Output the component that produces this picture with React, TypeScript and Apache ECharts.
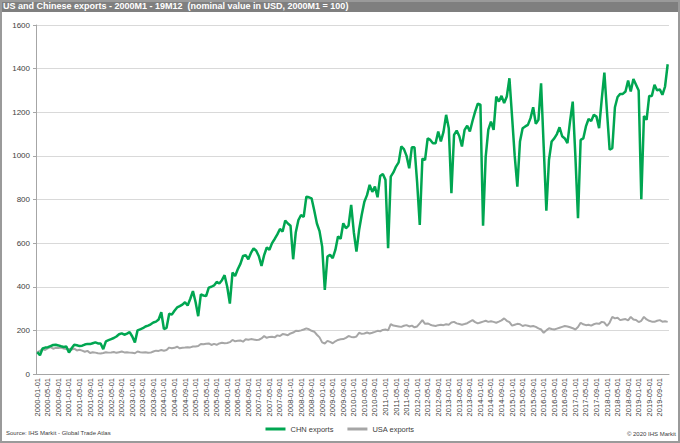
import React, { useEffect, useRef } from "react";
import * as echarts from "echarts";

const years = [2000, 2001, 2002, 2003, 2004, 2005, 2006, 2007, 2008, 2009, 2010, 2011, 2012, 2013, 2014, 2015, 2016, 2017, 2018, 2019];
const months = ["01", "02", "03", "04", "05", "06", "07", "08", "09", "10", "11", "12"];
const categories: string[] = [];
years.forEach((y) => months.forEach((m) => categories.push(`${y}-${m}-01`)));

const yTicks = { min: 0, max: 1600, interval: 200 };

const chnExports = [
  100, 86, 117, 121, 123, 128, 133, 134, 131, 127, 124, 126,
  98, 118, 134, 132, 128, 130, 135, 138, 137, 141, 145, 140,
  140, 114, 150, 155, 160, 165, 172, 182, 186, 180, 185, 192,
  172, 145, 200, 205, 210, 218, 222, 228, 236, 240, 250, 283,
  206, 212, 276, 272, 290, 305, 311, 318, 329, 314, 345, 380,
  330, 265, 365, 360, 357, 396, 400, 406, 422, 415, 430, 453,
  400, 323, 465, 449, 480, 505, 541, 545, 526, 555, 576, 565,
  540, 495, 545, 580, 570, 600, 619, 640, 665, 653, 703, 690,
  680, 526, 650, 706, 729, 720, 813, 810, 805, 750, 690, 655,
  584, 385, 538, 546, 531, 569, 630, 620, 691, 668, 680, 775,
  650, 561, 660, 730, 790, 820, 867, 835, 859, 810, 908, 917,
  890, 577, 905, 924, 951, 970, 1043, 1031, 1000, 943, 1039, 1039,
  880, 683, 988, 981, 1080, 1073, 1058, 1058, 1112, 1066, 1110, 1188,
  1127, 829, 1096, 1116, 1090, 1043, 1119, 1138, 1112, 1160, 1203, 1239,
  1235, 680, 996, 1120, 1157, 1119, 1272, 1249, 1275, 1242, 1272, 1356,
  1180, 1000, 859, 1066, 1127, 1135, 1142, 1173, 1223, 1147, 1165, 1333,
  1040, 749, 982, 1066, 1080, 1100, 1131, 1090, 1080, 1058, 1160, 1249,
  1000, 714, 1073, 1080, 1135, 1169, 1160, 1188, 1180, 1127, 1260, 1382,
  1200, 1028, 1035, 1223, 1270, 1284, 1284, 1295, 1345, 1295, 1352, 1326,
  1300, 801, 1183, 1165, 1275, 1275, 1326, 1300, 1305, 1280, 1318, 1420,
];

const usaExports = [
  100, 106, 114, 110, 118, 123, 116, 120, 119, 121, 117, 114,
  115, 112, 116, 108, 111, 107, 102, 106, 96, 100, 98, 95,
  94, 96, 100, 98, 99, 101, 97, 100, 103, 99, 100, 98,
  97, 95, 103, 100, 99, 100, 97, 98, 103, 107, 106, 110,
  107, 110, 121, 118, 120, 125, 118, 120, 121, 123, 122, 126,
  126, 128, 138, 136, 139, 140, 133, 138, 134, 140, 143, 141,
  142, 146, 156, 150, 152, 154, 148, 159, 157, 160, 158, 156,
  157, 163, 174, 166, 170, 171, 168, 177, 174, 183, 181, 178,
  186, 190, 198, 197, 200, 204, 209, 205, 198, 194, 180, 168,
  145, 140, 152, 147, 141, 150, 156, 159, 160, 166, 174, 170,
  168, 172, 189, 184, 186, 190, 186, 189, 193, 198, 196, 202,
  204, 200, 229, 222, 220, 218, 216, 221, 224, 218, 222, 214,
  218, 232, 247, 230, 232, 226, 222, 220, 224, 226, 224, 228,
  226, 236, 239, 232, 229, 226, 229, 233, 240, 247, 238, 232,
  236, 240, 244, 239, 242, 239, 235, 240, 246, 255, 244, 238,
  222, 226, 230, 228, 220, 224, 221, 218, 220, 216, 209, 204,
  189, 200, 210, 206, 204, 208, 212, 216, 220, 218, 214, 210,
  204, 215, 235, 228, 224, 226, 222, 228, 232, 230, 239, 236,
  220, 236, 262, 255, 258, 247, 250, 252, 246, 262, 250, 248,
  238, 244, 262, 250, 244, 240, 239, 244, 247, 240, 242, 239,
];

const titleText = "US and Chinese exports - 2000M1 - 19M12  (nominal value in USD, 2000M1 = 100)";
const sourceText = "Source: IHS Markit - Global Trade Atlas";
const copyrightText = "© 2020 IHS Markit";
const seriesNames = ["CHN exports", "USA exports"];

const FONT = "'Liberation Sans', Arial, sans-serif";

export default function App() {
  const ref = useRef<HTMLDivElement>(null);
  useEffect(() => {
    if (!ref.current) return;
    const chart = echarts.init(ref.current, undefined, { renderer: "svg" });
    chart.setOption({
      animation: false,
      backgroundColor: "#ffffff",
      textStyle: { fontFamily: FONT },
      grid: { left: 36, right: 11, top: 25, bottom: 69, containLabel: false },
      legend: {
        data: seriesNames,
        top: 420,
        left: "center",
        icon: "rect",
        itemWidth: 20,
        itemHeight: 3,
        itemGap: 14,
        textStyle: { fontSize: 7.5, color: "#404040", fontFamily: FONT },
      },
      xAxis: {
        type: "category",
        data: categories,
        boundaryGap: true,
        axisLine: { lineStyle: { color: "#a6a6a6", width: 1 } },
        axisTick: { interval: 3, length: 3, lineStyle: { color: "#a6a6a6" } },
        axisLabel: {
          interval: 3,
          rotate: 90,
          fontSize: 7.5,
          color: "#404040",
          margin: 4,
          fontFamily: FONT,
        },
        splitLine: { show: false },
      },
      yAxis: {
        type: "value",
        min: yTicks.min,
        max: yTicks.max,
        interval: yTicks.interval,
        axisLine: { show: true, lineStyle: { color: "#a6a6a6", width: 1 } },
        axisTick: { show: true, length: 3, lineStyle: { color: "#a6a6a6" } },
        axisLabel: {
          fontSize: 8,
          color: "#404040",
          margin: 6,
          fontFamily: FONT,
          formatter: (v: number) => String(v),
        },
        splitLine: { lineStyle: { color: "#d9d9d9", width: 1 } },
      },
      series: [
        {
          name: seriesNames[0],
          type: "line",
          data: chnExports,
          symbol: "none",
          lineStyle: { color: "#00a651", width: 2.5 },
          itemStyle: { color: "#00a651" },
          z: 3,
        },
        {
          name: seriesNames[1],
          type: "line",
          data: usaExports,
          symbol: "none",
          lineStyle: { color: "#a6a6a6", width: 2 },
          itemStyle: { color: "#a6a6a6" },
          z: 2,
        },
      ],
      graphic: [
        {
          type: "rect",
          shape: { x: 0, y: 0, width: 680, height: 12 },
          style: { fill: "#7f7f7f" },
          silent: true,
        },
        {
          type: "text",
          x: 3,
          y: 6,
          style: {
            text: titleText,
            fill: "#ffffff",
            font: `bold 9px ${FONT}`,
            verticalAlign: "middle",
          },
          silent: true,
        },
        {
          type: "text",
          x: 6,
          y: 433,
          style: {
            text: sourceText,
            fill: "#404040",
            font: `6px ${FONT}`,
            verticalAlign: "middle",
          },
          silent: true,
        },
        {
          type: "text",
          x: 676,
          y: 434,
          style: {
            text: copyrightText,
            fill: "#404040",
            font: `6px ${FONT}`,
            align: "right",
            verticalAlign: "middle",
          },
          silent: true,
        },
        {
          type: "rect",
          shape: { x: 1, y: 1, width: 678, height: 441 },
          style: { fill: "none", stroke: "#9a9a9a", lineWidth: 2 },
          silent: true,
        },
      ],
    });
    return () => chart.dispose();
  }, []);
  return (
    <div
      ref={ref}
      style={{ position: "absolute", left: 0, top: 0, width: 680, height: 443 }}
    />
  );
}
